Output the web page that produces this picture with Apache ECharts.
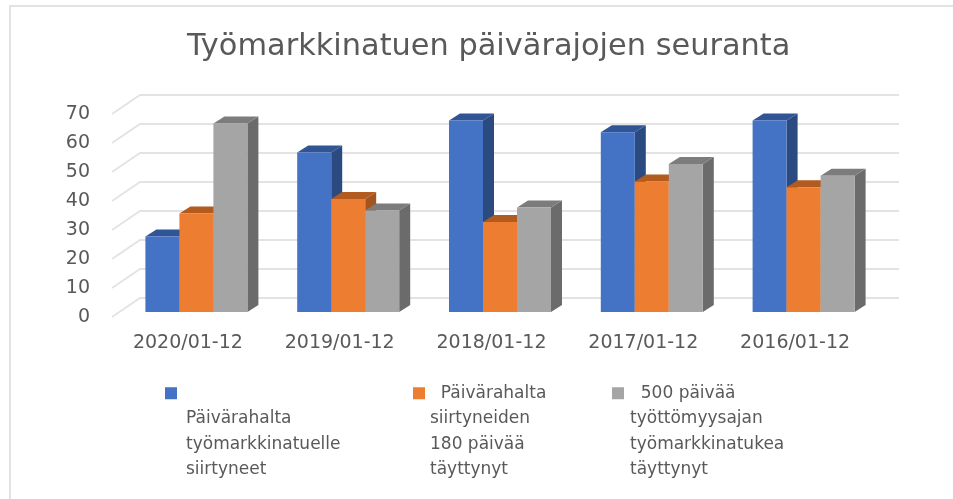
<!DOCTYPE html>
<html>
<head>
<meta charset="utf-8">
<style>
  html, body { margin: 0; padding: 0; background: #fff; }
  #chart { width: 953px; height: 499px; }
</style>
<script src="https://cdn.jsdelivr.net/npm/echarts@6/dist/echarts.min.js"></script>
</head>
<body>
<div id="chart"></div>
<script>
const categories = ["2020/01-12", "2019/01-12", "2018/01-12", "2017/01-12", "2016/01-12"];
const yTicks = [0, 10, 20, 30, 40, 50, 60, 70];
const siirtyneet = [26, 55, 66, 62, 66];
const tayttynyt180 = [34, 39, 31, 45, 43];
const tayttynyt500 = [65, 35, 36, 51, 47];

const seriesNames = [
  "Päivärahalta työmarkkinatuelle siirtyneet",
  "Päivärahalta siirtyneiden 180 päivää täyttynyt",
  "500 päivää työttömyysajan työmarkkinatukea täyttynyt",
];
// legend labels: leading blank lines keep the first text line level with the marker
const legendLabels = [
  "\n\n\n\nPäivärahalta\ntyömarkkinatuelle\nsiirtyneet",
  "\n\n\n  Päivärahalta\nsiirtyneiden\n180 päivää\ntäyttynyt",
  "\n\n\n  500 päivää\ntyöttömyysajan\ntyömarkkinatukea\ntäyttynyt",
];
const colors = [
  { front: "#4472c4", top: "#2f5597", side: "#2a4a80" },
  { front: "#ed7d31", top: "#b35a1f", side: "#a3541f" },
  { front: "#a5a5a5", top: "#7c7c7c", side: "#6b6b6b" },
];

const FONT = "DejaVu Sans";
const TEXT = "#595959";
const GRID = "#e3e3e3";

// pseudo 3d offsets in px
const wall = { dx: 28, dy: -19 };
const bar = { w: 34, shiftX: 8.5, shiftY: -5, dx: 11, dy: -7 };

function wallItem(params, api) {
  const p = api.coord([0, api.value(0)]);
  const band = api.size([1, 0])[0];
  const x0 = p[0] - band / 2;
  const x1 = x0 + band * 5;
  return {
    type: "polyline",
    silent: true,
    shape: {
      points: [
        [x0, p[1]],
        [x0 + wall.dx, p[1] + wall.dy],
        [x1 + wall.dx, p[1] + wall.dy],
      ],
    },
    style: { stroke: GRID, lineWidth: 1.8, fill: null },
  };
}

function barItem(seriesIdx) {
  return function (params, api) {
    const top = api.coord([api.value(0), api.value(1)]);
    const base = api.coord([api.value(0), 0]);
    const c = colors[seriesIdx];
    const x0 = top[0] + bar.shiftX + (seriesIdx - 1.5) * bar.w;
    const x1 = x0 + bar.w;
    const y0 = top[1] + bar.shiftY;
    const y1 = base[1] + bar.shiftY;
    return {
      type: "group",
      children: [
        {
          type: "polygon",
          shape: { points: [[x1, y0], [x1 + bar.dx, y0 + bar.dy], [x1 + bar.dx, y1 + bar.dy], [x1, y1]] },
          style: { fill: c.side },
        },
        {
          type: "polygon",
          shape: { points: [[x0, y0], [x0 + bar.dx, y0 + bar.dy], [x1 + bar.dx, y0 + bar.dy], [x1, y0]] },
          style: { fill: c.top },
        },
        {
          type: "rect",
          shape: { x: x0, y: y0, width: bar.w, height: y1 - y0 },
          style: { fill: c.front },
        },
      ],
    };
  };
}

function barSeries(idx, values) {
  return {
    name: seriesNames[idx],
    type: "custom",
    renderItem: barItem(idx),
    encode: { x: 0, y: 1 },
    itemStyle: { color: colors[idx].front },
    data: values.map((v, i) => [i, v]),
    z: 3,
  };
}

function legendFor(idx, left, textPad) {
  return {
    data: [{ name: seriesNames[idx], icon: "rect" }],
    left: left,
    top: 304,
    padding: 0,
    itemWidth: 12,
    itemHeight: 12,
    selectedMode: false,
    formatter: () => legendLabels[idx],
    textStyle: {
      fontFamily: FONT,
      fontSize: 17,
      color: TEXT,
      lineHeight: 25.5,
      padding: [0, 0, 0, textPad],
    },
  };
}

const chart = echarts.init(document.getElementById("chart"));
chart.setOption({
  backgroundColor: "#fff",
  animation: false,
  title: {
    text: "Työmarkkinatuen päivärajojen seuranta",
    left: 182,
    top: 27,
    textStyle: { fontFamily: FONT, fontSize: 30.4, fontWeight: "normal", color: TEXT },
  },
  legend: [legendFor(0, 165, 4), legendFor(1, 413, 0), legendFor(2, 612, 1)],
  grid: { left: 112, top: 114, width: 759, height: 203 },
  xAxis: {
    type: "category",
    data: categories,
    axisLine: { show: false },
    axisTick: { show: false },
    axisLabel: { fontFamily: FONT, fontSize: 19, color: TEXT, margin: 17, interval: 0 },
  },
  yAxis: {
    type: "value",
    min: 0,
    max: 70,
    interval: 10,
    axisLine: { show: false },
    axisTick: { show: false },
    splitLine: { show: false },
    axisLabel: { fontFamily: FONT, fontSize: 19, color: TEXT, margin: 22 },
  },
  // frame of the screenshot, top and left only
  graphic: [
    {
      type: "polyline",
      silent: true,
      shape: { points: [[10, 499], [10, 6], [953, 6]] },
      style: { stroke: "#e2e2e2", lineWidth: 2, fill: null },
    },
  ],
  series: [
    {
      type: "custom",
      renderItem: wallItem,
      silent: true,
      encode: { y: 0 },
      data: yTicks.map((v) => [v]),
      z: 1,
    },
    barSeries(0, siirtyneet),
    barSeries(1, tayttynyt180),
    barSeries(2, tayttynyt500),
  ],
});
</script>
</body>
</html>
